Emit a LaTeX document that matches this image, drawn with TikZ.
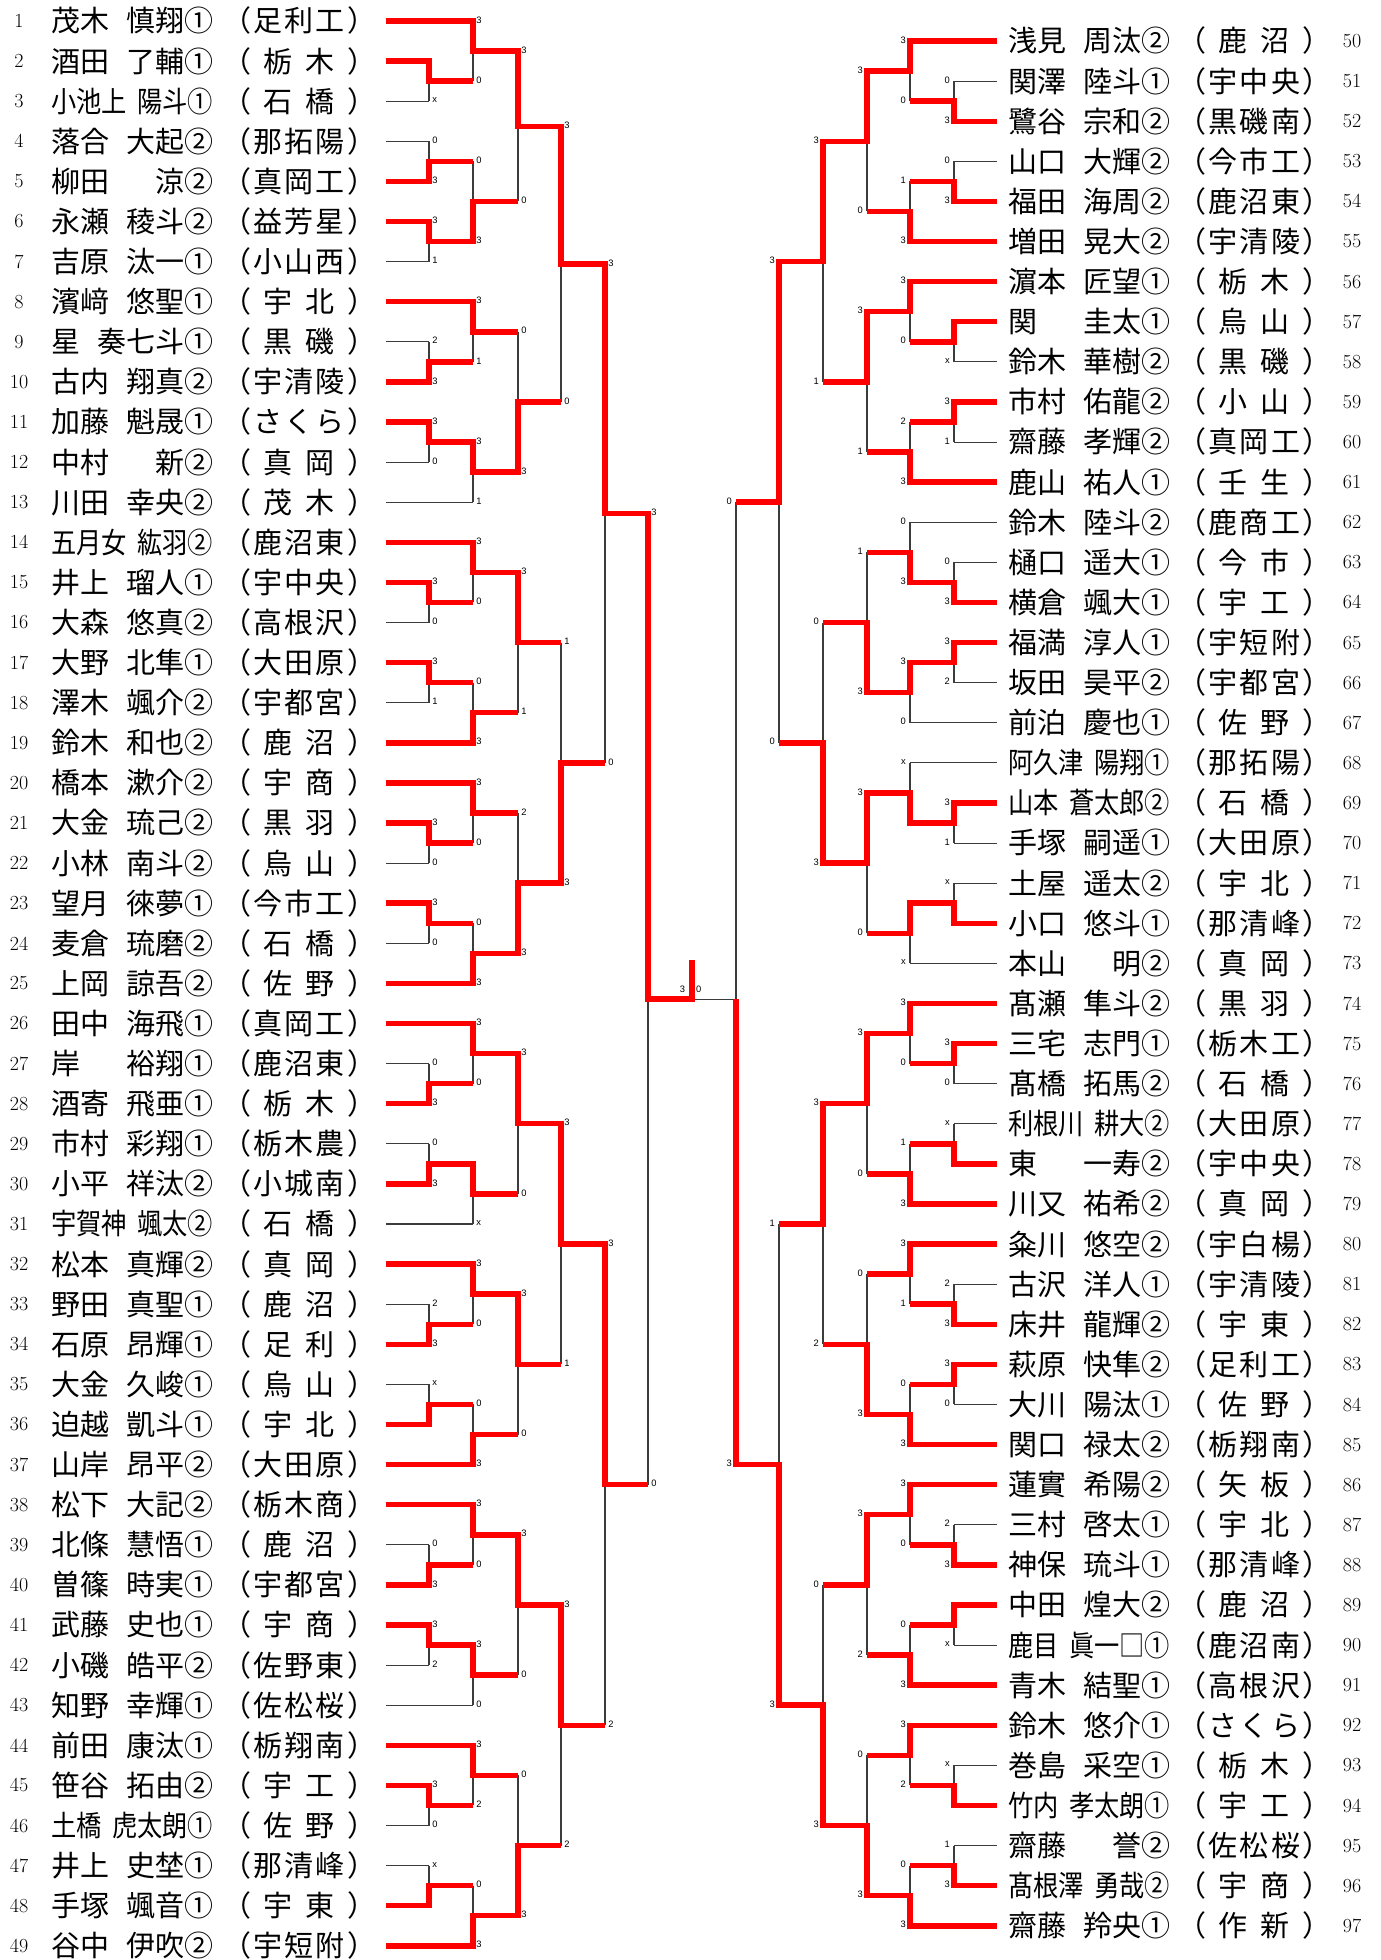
\documentclass[tikz,border=0pt]{standalone}
\usepackage{fontspec}
\usepackage{graphicx}
\newfontfamily\jp{Noto Sans CJK JP}
\newfontfamily\lab{Liberation Sans}
\definecolor{winred}{RGB}{255,0,0}
\definecolor{linegray}{RGB}{60,60,60}

% Namensfeld und Schulfeld
\newlength\namew \setlength\namew{121.5pt}
\newcommand\pname[2]{\setbox0\hbox{#1\kern9pt#2}%
  \ifdim\wd0>\namew\resizebox{\namew}{\height}{\box0}\else\hbox to\namew{#1\hfill#2}\fi}
\def\spreadloop#1{\ifx\relax#1\else\hfill#1\expandafter\spreadloop\fi}
\newcommand\pschool[1]{\hbox to 90pt{\makebox[9pt][r]{（}\expandafter\spreadloop#1\relax\hfill\makebox[9pt][l]{）}}}

% Spieler: Nr/Name/Vorname/Schule/Runde/gewonnen
\newcommand\leftplayers{%
1/茂木/慎翔①/足利工/2/1, 2/酒田/了輔①/栃木/1/1, 3/小池上/陽斗①/石橋/1/0, 4/落合/大起②/那拓陽/1/0,
5/柳田/涼②/真岡工/1/1, 6/永瀬/稜斗②/益芳星/1/1, 7/吉原/汰一①/小山西/1/0, 8/濱﨑/悠聖①/宇北/2/1,
9/星/奏七斗①/黒磯/1/0, 10/古内/翔真②/宇清陵/1/1, 11/加藤/魁晟①/さくら/1/1, 12/中村/新②/真岡/1/0,
13/川田/幸央②/茂木/2/0, 14/五月女/紘羽②/鹿沼東/2/1, 15/井上/瑠人①/宇中央/1/1, 16/大森/悠真②/高根沢/1/0,
17/大野/北隼①/大田原/1/1, 18/澤木/颯介②/宇都宮/1/0, 19/鈴木/和也②/鹿沼/2/1, 20/橋本/漱介②/宇商/2/1,
21/大金/琉己②/黒羽/1/1, 22/小林/南斗②/烏山/1/0, 23/望月/徠夢①/今市工/1/1, 24/麦倉/琉磨②/石橋/1/0,
25/上岡/諒吾②/佐野/2/1, 26/田中/海飛①/真岡工/2/1, 27/岸/裕翔①/鹿沼東/1/0, 28/酒寄/飛亜①/栃木/1/1,
29/市村/彩翔①/栃木農/1/0, 30/小平/祥汰②/小城南/1/1, 31/宇賀神/颯太②/石橋/2/0, 32/松本/真輝②/真岡/2/1,
33/野田/真聖①/鹿沼/1/0, 34/石原/昂輝①/足利/1/1, 35/大金/久峻①/烏山/1/0, 36/迫越/凱斗①/宇北/1/1,
37/山岸/昂平②/大田原/2/1, 38/松下/大記②/栃木商/2/1, 39/北條/慧悟①/鹿沼/1/0, 40/曽篠/時実①/宇都宮/1/1,
41/武藤/史也①/宇商/1/1, 42/小磯/皓平②/佐野東/1/0, 43/知野/幸輝①/佐松桜/2/0, 44/前田/康汰①/栃翔南/2/1,
45/笹谷/拓由②/宇工/1/1, 46/土橋/虎太朗①/佐野/1/0, 47/井上/史埜①/那清峰/1/0, 48/手塚/颯音①/宇東/1/1,
49/谷中/伊吹②/宇短附/2/1}
\newcommand\rightplayers{%
50/浅見/周汰②/鹿沼/2/1, 51/関澤/陸斗①/宇中央/1/0, 52/鷺谷/宗和②/黒磯南/1/1, 53/山口/大輝②/今市工/1/0,
54/福田/海周②/鹿沼東/1/1, 55/増田/晃大②/宇清陵/2/1, 56/濵本/匠望①/栃木/2/1, 57/関/圭太①/烏山/1/1,
58/鈴木/華樹②/黒磯/1/0, 59/市村/佑龍②/小山/1/1, 60/齋藤/孝輝②/真岡工/1/0, 61/鹿山/祐人①/壬生/2/1,
62/鈴木/陸斗②/鹿商工/2/0, 63/樋口/遥大①/今市/1/0, 64/横倉/颯大①/宇工/1/1, 65/福満/淳人①/宇短附/1/1,
66/坂田/昊平②/宇都宮/1/0, 67/前泊/慶也①/佐野/2/0, 68/阿久津/陽翔①/那拓陽/2/0, 69/山本/蒼太郎②/石橋/1/1,
70/手塚/嗣遥①/大田原/1/0, 71/土屋/遥太②/宇北/1/0, 72/小口/悠斗①/那清峰/1/1, 73/本山/明②/真岡/2/0,
74/髙瀬/隼斗②/黒羽/2/1, 75/三宅/志門①/栃木工/1/1, 76/髙橋/拓馬②/石橋/1/0, 77/利根川/耕大②/大田原/1/0,
78/東/一寿②/宇中央/1/1, 79/川又/祐希②/真岡/2/1, 80/粂川/悠空②/宇白楊/2/1, 81/古沢/洋人①/宇清陵/1/0,
82/床井/龍輝②/宇東/1/1, 83/萩原/快隼②/足利工/1/1, 84/大川/陽汰①/佐野/1/0, 85/関口/禄太②/栃翔南/2/1,
86/蓮實/希陽②/矢板/2/1, 87/三村/啓太①/宇北/1/0, 88/神保/琉斗①/那清峰/1/1, 89/中田/煌大②/鹿沼/1/1,
90/鹿目/眞一□①/鹿沼南/1/0, 91/青木/結聖①/高根沢/2/1, 92/鈴木/悠介①/さくら/2/1, 93/巻島/采空①/栃木/1/0,
94/竹内/孝太朗①/宇工/1/1, 95/齋藤/誉②/佐松桜/1/0, 96/髙根澤/勇哉②/宇商/1/1, 97/齋藤/羚央①/作新/2/1}

% Spiele: x/x naechste Runde/oben/unten/Sieger/Punkte oben/Punkte unten
\newcommand\leftmatches{%
429/473/2/3/0/{}/x, 429/473/4/5/1/0/3, 429/473/6/7/0/3/1, 429/473/9/10/1/2/3,
429/473/11/12/0/3/0, 429/473/15/16/0/3/0, 429/473/17/18/0/3/1, 429/473/21/22/0/3/0,
429/473/23/24/0/3/0, 429/473/27/28/1/0/3, 429/473/29/30/1/0/3, 429/473/33/34/1/2/3,
429/473/35/36/1/x/{}, 429/473/39/40/1/0/3, 429/473/41/42/0/3/2, 429/473/45/46/0/3/0,
429/473/47/48/1/x/{},
473/518/1/2.5/0/3/0, 473/518/4.5/6.5/1/0/3, 473/518/8/9.5/0/3/1, 473/518/11.5/13/0/3/1,
473/518/14/15.5/0/3/0, 473/518/17.5/19/1/0/3, 473/518/20/21.5/0/3/0, 473/518/23.5/25/1/0/3,
473/518/26/27.5/0/3/0, 473/518/29.5/31/0/{}/x, 473/518/32/33.5/0/3/0, 473/518/35.5/37/1/0/3,
473/518/38/39.5/0/3/0, 473/518/41.5/43/0/3/0, 473/518/44/45.5/0/3/2, 473/518/47.5/49/1/0/3,
518/561/1.75/5.5/0/3/0, 518/561/8.75/12.25/1/0/3, 518/561/14.75/18.25/0/3/1, 518/561/20.75/24.25/1/2/3,
518/561/26.75/30.25/0/3/0, 518/561/32.75/36.25/0/3/0, 518/561/38.75/42.25/0/3/0, 518/561/44.75/48.25/1/0/3,
561/605/3.625/10.5/0/3/0, 561/605/16.5/22.5/1/1/3, 561/605/28.5/34.5/0/3/1, 561/605/40.5/46.5/0/3/2,
605/648/7.0625/19.5/0/3/0, 605/648/31.5/43.5/0/3/2,
648/692/13.28125/37.5/0/3/0}
\newcommand\rightmatches{%
954/910/2.5/3.5/1/0/3, 954/910/4.5/5.5/1/0/3, 954/910/8.5/9.5/0/{}/x, 954/910/10.5/11.5/0/3/1,
954/910/14.5/15.5/1/0/3, 954/910/16.5/17.5/0/3/2, 954/910/20.5/21.5/0/3/1, 954/910/22.5/23.5/1/x/{},
954/910/26.5/27.5/0/3/0, 954/910/28.5/29.5/1/x/{}, 954/910/32.5/33.5/1/2/3, 954/910/34.5/35.5/0/3/0,
954/910/38.5/39.5/1/2/3, 954/910/40.5/41.5/0/{}/x, 954/910/44.5/45.5/1/x/{}, 954/910/46.5/47.5/1/1/3,
910/867/1.5/3/0/3/0, 910/867/5/6.5/1/1/3, 910/867/7.5/9/0/3/0, 910/867/11/12.5/1/2/3,
910/867/13.5/15/1/0/3, 910/867/17/18.5/0/3/0, 910/867/19.5/21/1/x/{}, 910/867/23/24.5/0/{}/x,
910/867/25.5/27/0/3/0, 910/867/29/30.5/1/1/3, 910/867/31.5/33/0/3/1, 910/867/35/36.5/1/0/3,
910/867/37.5/39/0/3/0, 910/867/41/42.5/1/0/3, 910/867/43.5/45/0/3/2, 910/867/47/48.5/1/0/3,
867/823/2.25/5.75/0/3/0, 867/823/8.25/11.75/0/3/1, 867/823/14.25/17.75/1/1/3, 867/823/20.25/23.75/0/3/0,
867/823/26.25/29.75/0/3/0, 867/823/32.25/35.75/1/0/3, 867/823/38.25/41.75/0/3/2, 867/823/44.25/47.75/1/0/3,
823/779/4/10/0/3/1, 823/779/16/22/1/0/3, 823/779/28/34/0/3/2, 823/779/40/46/1/0/3,
779/736/7/19/0/3/0, 779/736/31/43/1/1/3}

\begin{document}
\begin{tikzpicture}[x=0.75pt, y=-30.075pt,
    bline/.style={draw=linegray, line width=0.8pt},
    wline/.style={draw=winred, line width=4.1pt},
    jptext/.style={font=\jp\fontsize{21.75}{24}\selectfont, inner sep=0pt, anchor=base west, yshift=-8.2pt},
    numtext/.style={font=\fontsize{15}{16}\selectfont, inner sep=0pt},
    lscore/.style={font=\lab\fontsize{7}{7}\selectfont, inner sep=0pt, anchor=west, xshift=2.3pt, yshift=0.8pt},
    rscore/.style={font=\lab\fontsize{7}{7}\selectfont, inner sep=0pt, anchor=east, xshift=-3pt, yshift=0.8pt}]
	% Rahmen
	\fill[white] (0,0.4763) rectangle (1381,49.3541);
	\useasboundingbox (0,0.4763) rectangle (1381,49.3541);
	% Spieler links
	\foreach \i/\sur/\giv/\sch/\lv/\won in \leftplayers {
		\node[numtext] (nl\i) at (19,\i) {\i};
		\node[jptext] (pl\i) at (51,\i) {\pname{\sur}{\giv}};
		\node[jptext] (sl\i) at (239,\i) {\pschool{\sch}};
		\draw[bline] (386,\i) -- ({429+44*(\lv-1)},\i);
	}
	% Spieler rechts
	\foreach \j/\sur/\giv/\sch/\lv/\won [evaluate=\j as \rr using \j-48.5] in \rightplayers {
		\node[numtext] (nr\j) at (1352,\rr) {\j};
		\node[jptext] (pr\j) at (1008,\rr) {\pname{\sur}{\giv}};
		\node[jptext] (sr\j) at (1194,\rr) {\pschool{\sch}};
		\draw[bline] (997,\rr) -- ({954-44*(\lv-1)},\rr);
	}
	% Turnierbaum schwarz
	\foreach \xa/\xb/\yt/\yb/\w/\scA/\scB in \leftmatches {\draw[bline] (\xa,\yt) -- (\xa,\yb);}
	\foreach \xa/\xb/\yt/\yb/\w/\scA/\scB in \rightmatches {\draw[bline] (\xa,\yt) -- (\xa,\yb);}
	\draw[bline] (736,13) -- (736,37);
	\draw[bline] (736,25.390625) -- (692,25.390625);
	% Sieger rot
	\foreach \i/\sur/\giv/\sch/\lv/\won in \leftplayers {
		\ifnum\won=1 \draw[wline] (386,\i) -- ({429+44*(\lv-1)},\i);\fi
	}
	\foreach \j/\sur/\giv/\sch/\lv/\won [evaluate=\j as \rr using \j-48.5] in \rightplayers {
		\ifnum\won=1 \draw[wline] (997,\rr) -- ({954-44*(\lv-1)},\rr);\fi
	}
	\foreach \xa/\xb/\yt/\yb/\w/\scA/\scB [count=\n] in \leftmatches {
		\pgfmathsetmacro\ym{(\yt+\yb)/2}
		\pgfmathsetmacro\yw{\yt+\w*(\yb-\yt)}
		\draw[wline] (\xa-3,\yw) -- (\xa,\yw) -- (\xa,\ym) -- (\xb,\ym);
		\node[lscore] (lt\n) at (\xa,\yt) {\scA};
		\node[lscore] (lb\n) at (\xa,\yb) {\scB};
	}
	\foreach \xa/\xb/\yt/\yb/\w/\scA/\scB [count=\n] in \rightmatches {
		\pgfmathsetmacro\ym{(\yt+\yb)/2}
		\pgfmathsetmacro\yw{\yt+\w*(\yb-\yt)}
		\draw[wline] (\xa+3,\yw) -- (\xa,\yw) -- (\xa,\ym) -- (\xb,\ym);
		\node[rscore] (rt\n) at (\xa,\yt) {\scA};
		\node[rscore] (rb\n) at (\xa,\yb) {\scB};
	}
	% Finale
	\draw[wline] (739,37) -- (736,37) -- (736,25.390625);
	\draw[wline] (689,25.390625) -- (692,25.390625) -- (692,24.42);
	\node[rscore] (rt99) at (736,13) {0};
	\node[rscore] (rb99) at (736,37) {3};
	\node[rscore, xshift=-2pt] (fl) at (692,25.175) {3};
	\node[lscore, xshift=0.6pt] (fr) at (692,25.175) {0};
\end{tikzpicture}
\end{document}
